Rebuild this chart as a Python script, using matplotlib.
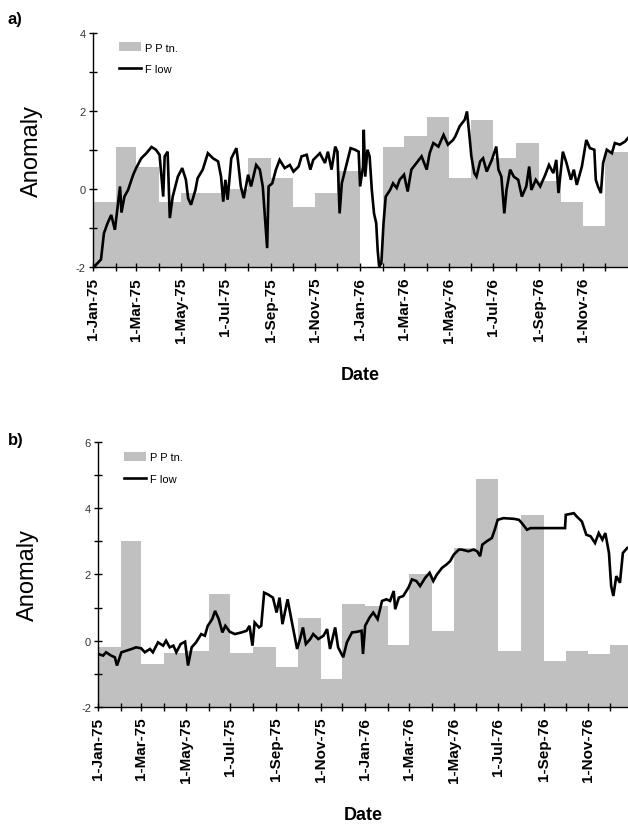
import matplotlib
matplotlib.use('Agg')
import matplotlib.pyplot as plt
import numpy as np
import pandas as pd
from matplotlib.patches import Patch
from matplotlib.lines import Line2D

plt.rcParams['font.family'] = ['Liberation Sans', 'DejaVu Sans']
plt.rcParams['axes.unicode_minus'] = False

# monthly precipitation anomaly, Jan-75 .. Dec-76
months = pd.date_range('1975-01-01', periods=25, freq='MS')
pptn_a = [-0.32, 1.09, 0.58, -0.32, -0.1, -0.1, 0.0, 0.79, 0.28, -0.45, -0.1, 0.47,
          -2.0, 1.08, 1.37, 1.86, 0.28, 1.76, 0.79, 1.18, 0.2, -0.33, -0.94, 0.95]
pptn_b = [-0.18, 3.0, -0.7, -0.38, -0.3, 1.42, -0.38, -0.18, -0.8, 0.7, -1.17, 1.12,
          1.05, -0.12, 2.02, 0.28, 2.8, 4.87, -0.32, 3.8, -0.6, -0.32, -0.4, -0.13]

# flow anomaly (days since 1-Jan-75, value)
flow_a_day = [1, 11, 15, 20, 25, 30, 34, 37, 39, 43, 48, 55, 59, 66, 73, 80, 86, 91, 96, 98,
              102, 105, 109, 116, 122, 127, 130, 134, 140, 143, 150, 157, 164, 171, 175, 178,
              181, 184, 189, 196, 198, 202, 206, 212, 216, 223, 228, 232, 238, 240, 245, 250,
              255, 262, 269, 274, 281, 285, 292, 297, 301, 310, 317, 321, 326, 331, 334, 337,
              340, 347, 352, 358, 363, 365, 369, 370, 372, 375, 378, 381, 384, 387, 389, 391,
              394, 397, 400, 406, 410, 415, 419, 425, 430, 435, 442, 449, 456, 460, 465, 472,
              479, 485, 492, 495, 501, 508, 511, 514, 517, 521, 524, 529, 533, 538, 545, 551,
              554, 558, 562, 565, 570, 575, 581, 586, 592, 596, 599, 605, 611, 618, 623, 629,
              633, 636, 642, 647, 653, 657, 661, 668, 674, 679, 685, 687, 690, 694, 697, 702,
              709, 713, 720, 727, 731]
flow_a_val = [-2.0, -1.8, -1.13, -0.87, -0.66, -1.04, -0.4, 0.07, -0.6, -0.19, -0.02, 0.37,
              0.54, 0.79, 0.92, 1.08, 1.01, 0.88, -0.19, 0.84, 0.96, -0.74, -0.19, 0.32, 0.54,
              0.24, -0.23, -0.4, -0.02, 0.28, 0.5, 0.92, 0.79, 0.71, 0.32, -0.32, 0.24, -0.27,
              0.79, 1.05, 0.75, 0.07, -0.23, 0.37, 0.07, 0.62, 0.5, 0.07, -1.51, 0.07, 0.15, 0.5,
              0.75, 0.54, 0.62, 0.45, 0.58, 0.84, 0.88, 0.5, 0.75, 0.92, 0.67, 0.96, 0.5, 1.09,
              0.96, -0.62, 0.15, 0.67, 1.05, 1.01, 0.96, 0.07, 0.58, 1.52, 0.32, 1.01, 0.84,
              -0.02, -0.62, -0.87, -1.56, -1.98, -1.9, -0.87, -0.19, -0.02, 0.15, 0.03, 0.24,
              0.37, -0.06, 0.5, 0.67, 0.84, 0.5, 0.92, 1.18, 1.09, 1.39, 1.14, 1.26, 1.35, 1.61,
              1.78, 1.99, 1.44, 0.84, 0.41, 0.32, 0.71, 0.79, 0.45, 0.75, 1.09, 0.5, 0.32, -0.62,
              -0.02, 0.5, 0.32, 0.24, -0.19, 0.07, 0.58, -0.02, 0.24, 0.07, 0.37, 0.62, 0.41,
              0.75, -0.1, 0.96, 0.67, 0.24, 0.5, 0.11, 0.58, 1.26, 1.05, 1.01, 0.24, 0.07, -0.1,
              0.67, 1.01, 0.92, 1.18, 1.14, 1.22, 1.31]

flow_b_day = [0, 7, 11, 18, 23, 26, 32, 39, 46, 52, 59, 64, 71, 75, 82, 89, 93, 98, 103, 107,
              113, 119, 123, 128, 134, 141, 146, 150, 156, 160, 165, 170, 174, 180, 187, 196,
              203, 207, 211, 214, 220, 223, 227, 232, 239, 244, 248, 252, 259, 265, 272, 276,
              280, 284, 290, 294, 301, 308, 313, 317, 324, 328, 335, 340, 347, 354, 360, 362,
              365, 371, 376, 382, 388, 394, 399, 404, 406, 411, 417, 424, 429, 435, 440, 447,
              453, 458, 463, 470, 476, 481, 486, 493, 497, 506, 513, 518, 522, 525, 531, 538,
              542, 546, 554, 568, 575, 579, 586, 591, 638, 639, 650, 654, 661, 667, 673, 679,
              684, 689, 693, 698, 701, 704, 708, 713, 717, 723]
flow_b_val = [-0.4, -0.45, -0.35, -0.45, -0.5, -0.75, -0.35, -0.3, -0.25, -0.2, -0.23, -0.35,
              -0.25, -0.35, -0.05, -0.15, 0.0, -0.2, -0.15, -0.35, -0.1, -0.03, -0.75, -0.2,
              -0.05, 0.2, 0.15, 0.45, 0.65, 0.9, 0.65, 0.25, 0.45, 0.27, 0.2, 0.25, 0.3, 0.45,
              -0.15, 0.55, 0.4, 0.45, 1.45, 1.4, 1.3, 0.85, 1.3, 0.5, 1.25, 0.55, -0.25, 0.05,
              0.4, -0.1, 0.05, 0.2, 0.05, 0.15, 0.35, -0.25, 0.4, -0.2, -0.5, -0.05, 0.25, 0.27,
              0.3, -0.4, 0.45, 0.7, 0.85, 0.65, 1.2, 1.25, 1.2, 1.5, 0.95, 1.3, 1.35, 1.6, 1.85,
              1.8, 1.65, 1.9, 2.05, 1.8, 2.0, 2.2, 2.3, 2.4, 2.6, 2.75, 2.75, 2.7, 2.75, 2.7,
              2.55, 2.9, 3.0, 3.1, 3.35, 3.65, 3.7, 3.68, 3.65, 3.55, 3.35, 3.4, 3.4, 3.8, 3.85,
              3.75, 3.6, 3.2, 3.15, 2.95, 3.25, 3.05, 3.25, 2.65, 1.65, 1.35, 1.95, 1.75, 2.65,
              2.8]

tick_labels = ['1-Jan-75', '1-Mar-75', '1-May-75', '1-Jul-75', '1-Sep-75', '1-Nov-75',
               '1-Jan-76', '1-Mar-76', '1-May-76', '1-Jul-76', '1-Sep-76', '1-Nov-76']

start = months[0]
mdays = np.array([(m - start).days for m in months])
widths = np.diff(mdays)
left = mdays[:-1]

fig = plt.figure(figsize=(6.28, 8.28), dpi=100)
ax_a = fig.add_axes([0.148, 0.676, 0.852, 0.283])
ax_b = fig.add_axes([0.156, 0.145, 0.844, 0.320])

panels = [(ax_a, pptn_a, flow_a_day, flow_a_val, (-2, 4), 731, 'a)', 0.985, 24),
          (ax_b, pptn_b, flow_b_day, flow_b_val, (-2, 6), 724, 'b)', 0.477, 30)]

for ax, pptn, fday, fval, ylim, xmax, tag, ty, ypad in panels:
    ax.bar(left, np.array(pptn) + 2, width=widths, bottom=-2, align='edge',
           color='#c0c0c0', edgecolor='none', zorder=1)
    ax.plot(fday, fval, color='black', lw=1.9, zorder=3, solid_joinstyle='miter')
    ax.set_xlim(0, xmax)
    ax.set_ylim(*ylim)
    ax.spines['top'].set_visible(False)
    ax.spines['right'].set_visible(False)
    ax.spines['left'].set_linewidth(1.0)
    ax.spines['bottom'].set_linewidth(1.0)
    ax.set_yticks(np.arange(ylim[0], ylim[1] + 1, 2))
    ax.set_yticks(np.arange(ylim[0] + 1, ylim[1], 2), minor=True)
    ax.set_xticks(mdays[:-1:2])
    ax.set_xticklabels(tick_labels, rotation=90, fontsize=11, fontweight='bold')
    ax.set_xticks(mdays[1:-1:2], minor=True)
    ax.tick_params(axis='both', which='both', direction='inout', length=6, width=1)
    ax.tick_params(axis='x', pad=4)
    ax.tick_params(axis='y', labelsize=8, pad=2, labelcolor='#333333')
    ax.set_ylabel('Anomaly', fontsize=17, labelpad=ypad)
    ax.set_xlabel('Date', fontsize=13, fontweight='bold', labelpad=17)
    ax.set_axisbelow(False)
    handles = [Patch(facecolor='#c0c0c0', edgecolor='none'),
               Line2D([0], [0], color='black', lw=1.9)]
    ax.legend(handles, ['P P tn.', 'F low'], loc='upper left', bbox_to_anchor=(0.04, 0.98),
              frameon=False, fontsize=8, handlelength=2.0, handleheight=0.9,
              labelspacing=1.0, handletextpad=0.4, borderaxespad=0)
    fig.text(0.012, ty, tag, fontsize=12, fontweight='bold', va='top')

fig.savefig('out.png', dpi=100)
